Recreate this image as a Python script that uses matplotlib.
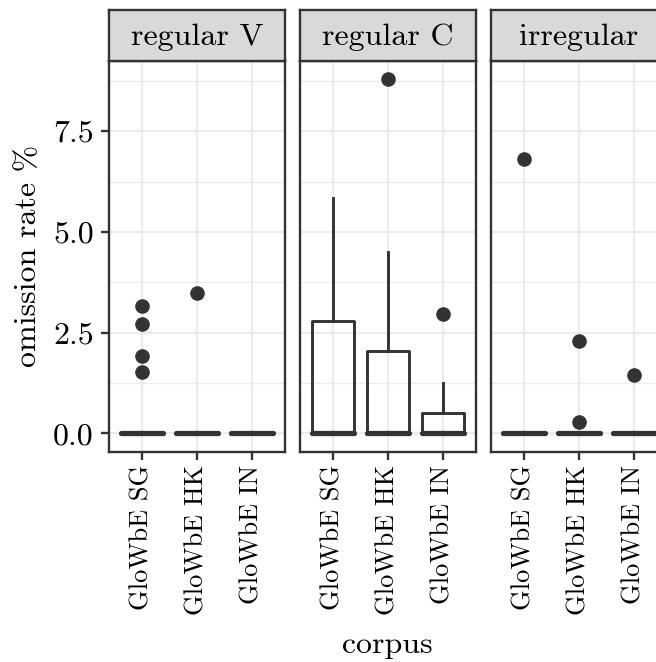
import matplotlib
matplotlib.use("Agg")
import matplotlib.pyplot as plt
from matplotlib.ticker import FixedLocator

plt.rcParams['font.family'] = ['cmr10', 'DejaVu Serif']
plt.rcParams['axes.unicode_minus'] = False

facets = ['regular V', 'regular C', 'irregular']
corpora = ['GloWbE SG', 'GloWbE HK', 'GloWbE IN']

# box statistics, one row per facet, one value per corpus
q1 = [[0, 0, 0], [0, 0, 0], [0, 0, 0]]
medians = [[0, 0, 0], [0, 0, 0], [0, 0, 0]]
q3 = [[0, 0, 0], [2.79, 2.05, 0.51], [0, 0, 0]]
whisk_lo = [[0, 0, 0], [0, 0, 0], [0, 0, 0]]
whisk_hi = [[0, 0, 0], [5.83, 4.50, 1.24], [0, 0, 0]]
outliers = [
    [[3.16, 2.71, 1.91, 1.53], [3.49], []],
    [[], [8.79], [2.96]],
    [[6.80], [2.30, 0.29], [1.45]],
]

y_ticks = [0, 2.5, 5.0, 7.5]
y_minor = [1.25, 3.75, 6.25, 8.75]

W, H = 656, 662
fig = plt.figure(figsize=(W / 100, H / 100), dpi=100)

dark = '#333333'
panel_left = 109
panel_w = 176
gap = 15
panel_top = 61
panel_bot = 452
strip_top = 10

for i, name in enumerate(facets):
    x0 = panel_left + i * (panel_w + gap)
    ax = fig.add_axes([x0 / W, 1 - panel_bot / H, panel_w / W, (panel_bot - panel_top) / H])
    stats = []
    for j in range(3):
        stats.append(dict(med=medians[i][j], q1=q1[i][j], q3=q3[i][j],
                          whislo=whisk_lo[i][j], whishi=whisk_hi[i][j],
                          fliers=outliers[i][j]))
    ax.bxp(stats, positions=[1, 2, 3], widths=0.75, showcaps=False,
           boxprops=dict(color=dark, lw=2.1),
           whiskerprops=dict(color=dark, lw=2.1),
           medianprops=dict(color=dark, lw=3.8, solid_capstyle='round'),
           flierprops=dict(marker='o', markerfacecolor=dark, markeredgecolor=dark,
                           markersize=9.5))
    ax.set_xlim(0.4, 3.6)
    ax.set_ylim(-0.46, 9.24)
    ax.set_xticks([1, 2, 3])
    ax.set_xticklabels(corpora, rotation=90, fontsize=19)
    ax.xaxis.set_minor_locator(FixedLocator([]))
    ax.set_yticks(y_ticks)
    ax.yaxis.set_minor_locator(FixedLocator(y_minor))
    if i == 0:
        ax.set_yticklabels(['%.1f' % v for v in y_ticks], fontsize=23)
    else:
        ax.set_yticklabels([])
    ax.tick_params(axis='both', which='major', color=dark, width=1.7, length=6, pad=3,
                   labelcolor='black')
    ax.tick_params(axis='y', which='major', pad=5)
    ax.tick_params(axis='y', which='minor', length=0)
    if i > 0:
        ax.tick_params(axis='y', which='major', length=0)
    ax.grid(True, which='major', color='#EBEBEB', lw=1.5)
    ax.grid(True, which='minor', axis='y', color='#EBEBEB', lw=0.9)
    ax.set_axisbelow(True)
    for s in ax.spines.values():
        s.set_color(dark)
        s.set_linewidth(1.7)
        s.set_zorder(5)

    # facet strip
    sax = fig.add_axes([x0 / W, 1 - panel_top / H, panel_w / W, (panel_top - strip_top) / H])
    sax.set_facecolor('#D9D9D9')
    sax.set_xticks([])
    sax.set_yticks([])
    for s in sax.spines.values():
        s.set_color(dark)
        s.set_linewidth(1.7)
    sax.text(0.5, 0.47, name, ha='center', va='center', fontsize=23,
             transform=sax.transAxes)

fig.text(28 / W, 1 - 256 / H, 'omission rate %', rotation=90, ha='center', va='center',
         fontsize=23)
fig.text(387 / W, 1 - 645 / H, 'corpus', ha='center', va='center', fontsize=23)

fig.savefig('out.png', dpi=100)
